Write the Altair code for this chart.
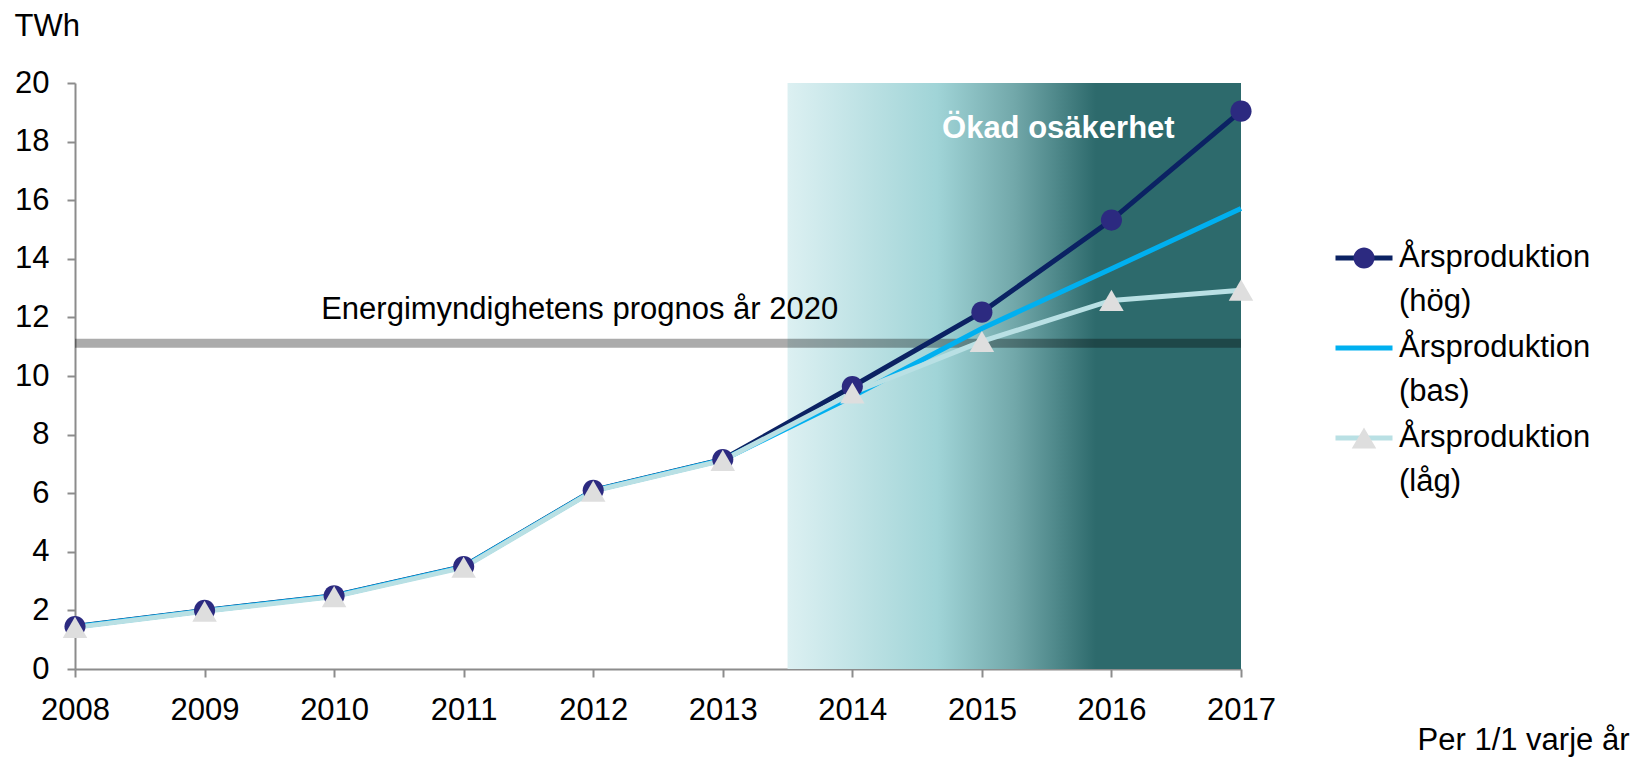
import altair as alt
import pandas as pd

# ---- data ----
years = [2008, 2009, 2010, 2011, 2012, 2013, 2014, 2015, 2016, 2017]
hog = [1.45, 2.0, 2.5, 3.5, 6.1, 7.15, 9.64, 12.18, 15.32, 19.04]
bas = [1.44, 1.99, 2.49, 3.49, 6.09, 7.14, 9.30, 11.62, 13.66, 15.72]
lag = [1.42, 1.97, 2.47, 3.47, 6.07, 7.12, 9.42, 11.18, 12.58, 12.93]
series_names = ["Årsproduktion (hög)", "Årsproduktion (bas)", "Årsproduktion (låg)"]
marker_keys = ["hög", "bas", "låg"]
y_ticks = [0, 2, 4, 6, 8, 10, 12, 14, 16, 18, 20]
prognos_value = [11.12]
prognos_label = "Energimyndighetens prognos år 2020"
zone_label = "Ökad osäkerhet"
zone_years = [2013.5, 2017]

# ---- styling ----
FONT = "Liberation Sans"
FS = 31
line_colors = ["#0b2263", "#00b0f0", "#b9e0e4"]
marker_colors = ["#2c2a80", "transparent", "#dedede"]
SYM = 3249  # symbol size: stroke length 57px
marker_paths = [
    "M0.37,0A0.37,0.37,0,1,1,-0.37,0A0.37,0.37,0,1,1,0.37,0Z",
    "M0,0L0,0",
    "M0,-0.37L0.43,0.37L-0.43,0.37Z",
]

rows = []
for name, key, vals in zip(series_names, marker_keys, [hog, bas, lag]):
    for yr, v in zip(years, vals):
        rows.append({"year": yr, "serie": name, "key": key, "value": v})
df = pd.DataFrame(rows)

x_scale = alt.Scale(domain=[years[0], years[-1]], nice=False, zero=False)
y_scale = alt.Scale(domain=[y_ticks[0], y_ticks[-1]], nice=False)

LEG_X, LEG_Y = 1258, 144


def legend(label_color, label_expr, stroke_type=None):
    kw = dict(
        title=None, orient="none", legendX=LEG_X, legendY=LEG_Y,
        symbolSize=SYM, symbolStrokeWidth=5,
        labelFont=FONT, labelFontSize=FS, labelColor=label_color,
        labelExpr=label_expr, labelBaseline="middle",
        labelOffset=4, labelLimit=500, rowPadding=0, padding=0,
    )
    if stroke_type:
        kw["symbolType"] = stroke_type
    else:
        kw["symbolStrokeColor"] = "transparent"
    return alt.Legend(**kw)


base = alt.Chart(df)

zone = alt.Chart(pd.DataFrame({"a": [0]})).mark_rect(
    fill=alt.LinearGradient(
        gradient="linear", x1=0, x2=1, y1=0, y2=0,
        stops=[
            alt.GradientStop(offset=0, color="#dcf0f2"),
            alt.GradientStop(offset=0.33, color="#a0d4d7"),
            alt.GradientStop(offset=0.5, color="#72a8aa"),
            alt.GradientStop(offset=0.68, color="#2d6a6c"),
            alt.GradientStop(offset=1, color="#2d6a6c"),
        ],
    )
).encode(
    x=alt.datum(zone_years[0]), x2=alt.datum(zone_years[1]),
    y=alt.datum(y_ticks[0]), y2=alt.datum(y_ticks[-1]),
)

band = alt.Chart(pd.DataFrame({"v": prognos_value})).mark_rule(
    color="black", opacity=0.33, strokeWidth=9
).encode(y=alt.Y("v:Q", scale=y_scale))

lines = base.mark_line(strokeWidth=5).encode(
    x=alt.X("year:Q", scale=x_scale,
            axis=alt.Axis(values=years, format="d", title="Per 1/1 varje år",
                          titleX=1554, titleY=71, titleAlign="right",
                          titleBaseline="middle", titleAngle=0,
                          labelPadding=18, labelFlush=False)),
    y=alt.Y("value:Q", scale=y_scale,
            axis=alt.Axis(values=y_ticks, title="TWh", titleAngle=0,
                          titleAlign="left", titleBaseline="top",
                          titleX=-61, titleY=-72, labelPadding=18,
                          labelFlush=False)),
    stroke=alt.Stroke("serie:N",
                      scale=alt.Scale(domain=series_names, range=line_colors),
                      legend=legend("black", "split(datum.label, ' ')", "stroke")),
)

hidden_labels = "['', '']"
points = base.transform_filter(
    alt.datum.key != marker_keys[1]
).mark_point(filled=True, size=SYM, opacity=1, strokeWidth=0).encode(
    x=alt.X("year:Q", scale=x_scale),
    y=alt.Y("value:Q", scale=y_scale),
    fill=alt.Fill("key:N",
                  scale=alt.Scale(domain=marker_keys, range=marker_colors),
                  legend=legend("transparent", hidden_labels)),
    shape=alt.Shape("key:N",
                    scale=alt.Scale(domain=marker_keys, range=marker_paths),
                    legend=legend("transparent", hidden_labels)),
)

prog_text = alt.Chart(pd.DataFrame({"t": [prognos_label]})).mark_text(
    align="left", baseline="middle", font=FONT, fontSize=FS, color="black"
).encode(x=alt.datum(2009.9), y=alt.datum(12.25), text="t:N")

zone_text = alt.Chart(pd.DataFrame({"t": [zone_label]})).mark_text(
    align="center", baseline="middle", font=FONT, fontSize=FS,
    fontWeight="bold", color="white"
).encode(x=alt.datum(2015.59), y=alt.datum(18.43), text="t:N")

chart = alt.layer(zone, band, lines, points, prog_text, zone_text).properties(
    width=1166, height=586, autosize="none",
    padding={"left": 67, "top": 75, "right": 396, "bottom": 89},
).configure(
    style={"guide-label": {"lineHeight": 44}},
).configure_view(stroke=None).configure_axis(
    grid=False, labelFont=FONT, labelFontSize=FS, labelColor="black",
    titleFont=FONT, titleFontSize=FS, titleFontWeight="normal", titleColor="black",
    domainColor="#8c8c8c", tickColor="#8c8c8c", domainWidth=2, tickWidth=2,
    tickSize=8,
)

chart.save("out.html", embed_options={"renderer": "svg", "actions": False})
